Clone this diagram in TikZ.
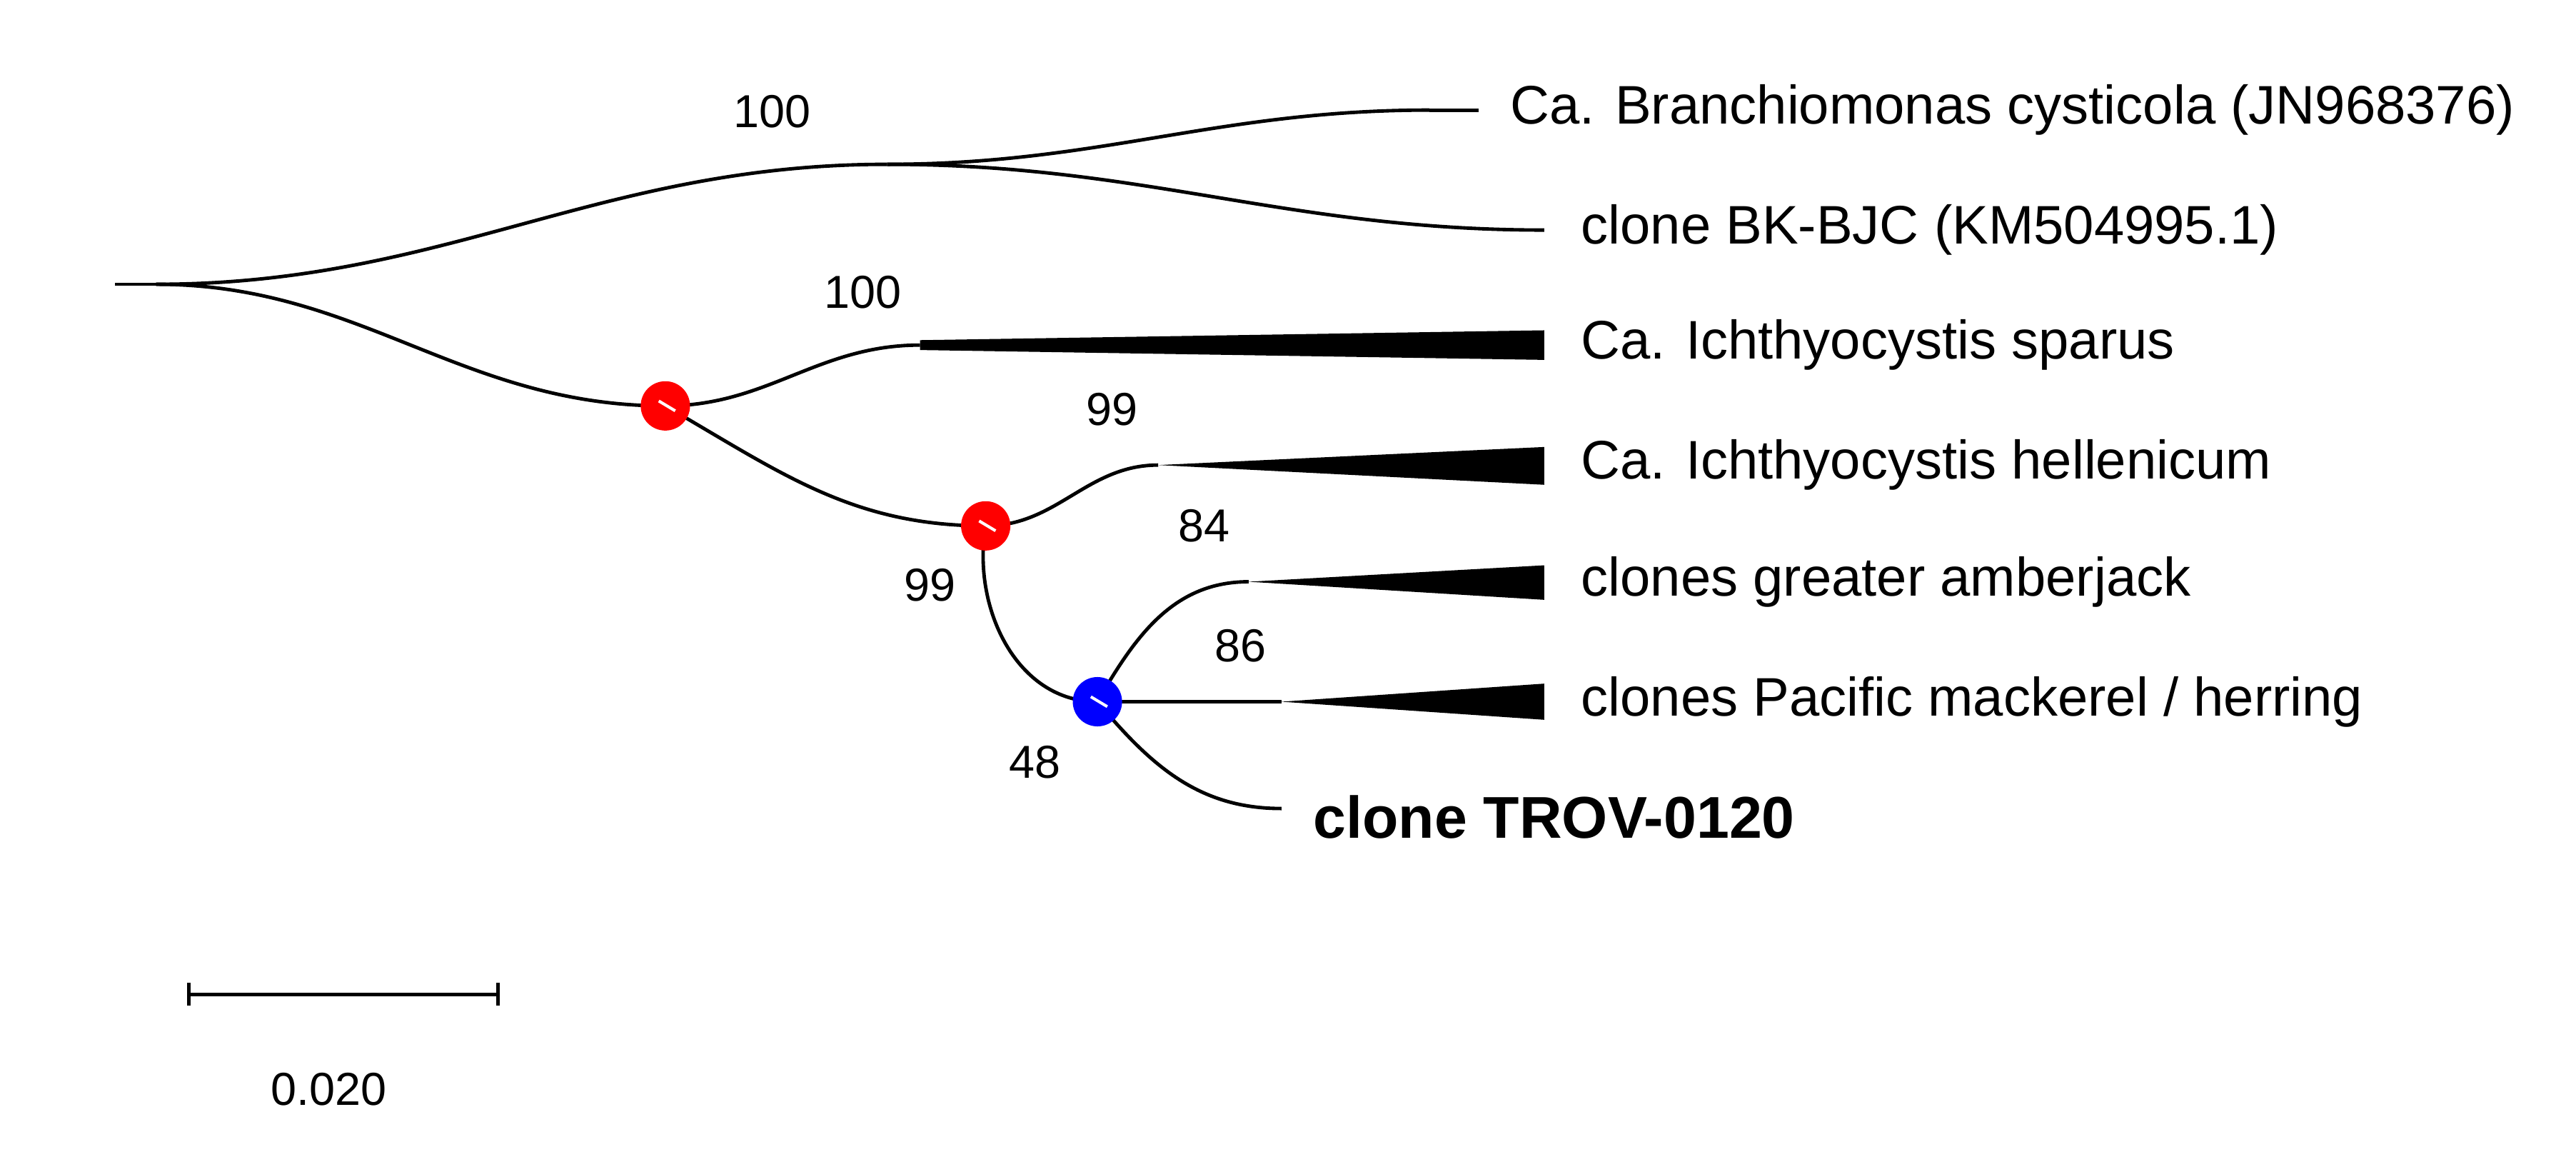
\documentclass[tikz,border=0pt]{standalone}
\usepackage{fontspec}
\setmainfont{Liberation Sans}
\begin{document}
\begin{tikzpicture}[x=0.01cm,y=-0.01cm,
  br/.style={line width=0.6pt, out=0, in=180},
  leaf/.style={anchor=west, font=\fontsize{9.4}{11}\selectfont},
  sup/.style={font=\fontsize{8}{10}\selectfont},
  wedge/.style={fill=black},
  nodemark/.style={circle, minimum size=0.3cm, inner sep=0pt}]
\useasboundingbox (0,0) rectangle (1568,713);
% coordinates
\coordinate (root) at (70,173);
\coordinate (r0) at (95,173);
\coordinate (a) at (540,100);
\coordinate (l1) at (870,67);
\coordinate (l1e) at (900,67);
\coordinate (l2) at (940,140);
\coordinate (n1) at (405,247);
\coordinate (s) at (560,210);
\coordinate (n2) at (600,320);
\coordinate (h) at (705,283);
\coordinate (n3) at (668,427);
\coordinate (g) at (760,354);
\coordinate (p) at (780,427);
\coordinate (t) at (780,492);
% branches
\draw[line width=0.6pt] (root) -- (r0);
\draw[br] (r0) to (a);
\draw[br] (a) to (l1);
\draw[line width=0.6pt] (l1) -- (l1e);
\draw[br] (a) to (l2);
\draw[br] (r0) to (n1);
\draw[br] (n1) to (s);
\draw[br,out=-30,in=180] (n1) to (n2);
\draw[br] (n2) to (h);
\draw[br,out=-100,in=180] (n2) to (n3);
\draw[br,out=60] (n3) to (g);
\draw[line width=0.6pt] (n3) -- (p);
\draw[br,out=-50] (n3) to (t);
% wedges
\fill[wedge] (560,207) -- (940,201) -- (940,219) -- (560,213) -- cycle;
\fill[wedge] (h) -- (940,272) -- (940,295) -- cycle;
\fill[wedge] (g) -- (940,344) -- (940,365) -- cycle;
\fill[wedge] (p) -- (940,416) -- (940,438) -- cycle;
% node marks
\node[nodemark, fill=red] (m1) at (n1) {};
\node[nodemark, fill=red] (m2) at (n2) {};
\node[nodemark, fill=blue] (m3) at (n3) {};
\foreach \n in {n1,n2,n3}{\draw[white, line width=0.5pt] (\n) ++(-4,-3) -- ++(10,6);}
% leaf labels
\node[leaf] (L1) at (907,67) {Ca. Branchiomonas cysticola (JN968376)};
\node[leaf] (L2) at (950,140) {clone BK-BJC (KM504995.1)};
\node[leaf] (L3) at (950,210) {Ca. Ichthyocystis sparus};
\node[leaf] (L4) at (950,283) {Ca. Ichthyocystis hellenicum};
\node[leaf] (L5) at (950,354) {clones greater amberjack};
\node[leaf] (L6) at (950,427) {clones Pacific mackerel / herring};
\node[leaf, font=\fontsize{10.2}{12}\selectfont\bfseries] (L7) at (787,497) {clone TROV-0120};
% support values
\node[sup] at (470,68) {100};
\node[sup] at (525,178) {100};
\node[sup] at (677,249) {99};
\node[sup] at (566,356) {99};
\node[sup] at (733,320) {84};
\node[sup] at (755,393) {86};
\node[sup] at (630,464) {48};
% scale bar
\coordinate (sb1) at (115,605);
\coordinate (sb2) at (303,605);
\draw[line width=0.6pt] (sb1) -- (sb2);
\draw[line width=0.6pt] (115,598) -- (115,612) (303,598) -- (303,612);
\node[sup] (sbl) at (200,663) {0.020};
\end{tikzpicture}
\end{document}
